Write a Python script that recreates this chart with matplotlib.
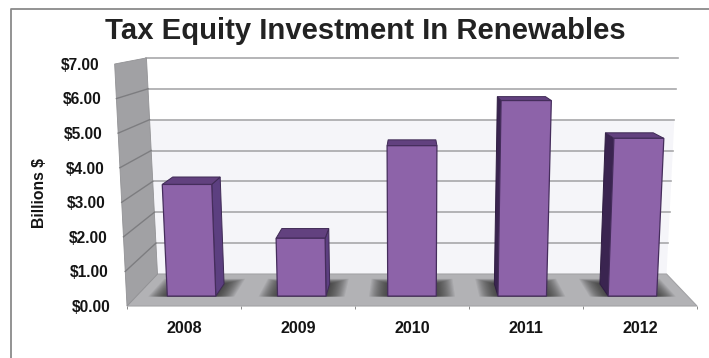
"""
    Tax equity investment, fake 3D column chart
"""

import matplotlib
matplotlib.use('Agg')
import matplotlib.pyplot as plt
from matplotlib.lines import Line2D
from matplotlib.patches import Polygon

years = ['2008', '2009', '2010', '2011', '2012']
values = [3.34, 1.73, 4.50, 5.85, 4.72]
y_ticks = [0, 1, 2, 3, 4, 5, 6, 7]
y_labels = ['$0.00', '$1.00', '$2.00', '$3.00', '$4.00', '$5.00', '$6.00', '$7.00']

plt.rcParams['font.family'] = ['Liberation Sans', 'DejaVu Sans']
plt.rcParams['font.weight'] = 'bold'

# 透视参数
SHRINK = 0.107
LIFT = 0.925
SPREAD = 0.0062
BAR_HALF = 0.22
D_FRONT, D_BACK = 0.31, 0.69
TOP = 7


def project(cat, val, depth):
    # 把 类别/数值/进深 转为前平面的数据坐标
    scale = 1 - SHRINK * depth
    x = 2 + (cat - 2) * scale * (1 + SPREAD * val)
    y = LIFT * depth + scale * val
    return x, y


def face(ax, corners, **kw):
    pts = [project(*c) for c in corners]
    ax.add_patch(Polygon(pts, closed=True, clip_on=False, **kw))


fig = plt.figure(figsize=(7.09, 3.58), dpi=100, facecolor='white')
ax = fig.add_axes([127 / 709, 52 / 358, 570 / 709, 242 / 358])
ax.set_xlim(-0.5, 4.5)
ax.set_ylim(0, 7)
ax.patch.set_alpha(0)
for s in ax.spines.values():
    s.set_visible(False)

L, R = -0.5, 4.5

# 后墙, 上面两格是白的
face(ax, [(L, 0, 1), (R, 0, 1), (R, 5, 1), (L, 5, 1)], fc='#f5f5f9', ec='none', zorder=1)
for v in y_ticks[1:]:
    p0 = project(L, v, 1)
    p1 = project(R, v, 1)
    ax.plot([p0[0], p1[0]], [p0[1], p1[1]], color='#a8a8aa', lw=1.2,
            clip_on=False, zorder=2)

# 地板
face(ax, [(L, 0, 0), (R, 0, 0), (R, 0, 1), (L, 0, 1)], fc='#b2b2b5', ec='#a2a2a5', lw=0.8, zorder=3)

# 左墙
face(ax, [(L, 0, 0), (L, 0, 1), (L, TOP, 1), (L, TOP, 0)], fc='#a1a1a4', ec='#929295', lw=0.6, zorder=4)
for v in y_ticks[1:7]:
    p0 = project(L, v, 0)
    p1 = project(L, v, 1)
    ax.plot([p0[0], p1[0]], [p0[1], p1[1]], color='#7d7d80', lw=1.0,
            clip_on=False, zorder=5)

# y 轴文字, 跟着墙的斜边走
for v, lab in zip(y_ticks, y_labels):
    x, y = project(L, v, 0)
    ax.text(x - 0.145 + 0.002 * v, y - 0.04, lab, ha='right', va='center',
            fontsize=11.2, fontweight='bold', color='#141414', clip_on=False)

# 柱子
for i, v in enumerate(values):
    x0, x1 = i - BAR_HALF, i + BAR_HALF

    # 底部阴影, 一层层叠出来的渐变
    for k in range(16):
        grow = 0.17 * (1 - k / 16)
        deep = 0.16 * (1 - k / 16)
        face(ax, [(x0 - grow, 0, D_FRONT - 0.015), (x1 + grow, 0, D_FRONT - 0.015),
                  (x1 + grow, 0, D_BACK + deep), (x0 - grow, 0, D_BACK + deep)],
             fc='#262626', ec='none', alpha=0.075, zorder=6)

    # 侧面, 左边的柱子露右面, 右边的露左面
    if i < 2:
        face(ax, [(x1, 0, D_FRONT), (x1, 0, D_BACK), (x1, v, D_BACK), (x1, v, D_FRONT)],
             fc='#5c3f80', ec='#3f2a55', lw=0.7, zorder=7)
    elif i > 2:
        face(ax, [(x0, 0, D_FRONT), (x0, 0, D_BACK), (x0, v, D_BACK), (x0, v, D_FRONT)],
             fc='#3a2450', ec='#2f1d42', lw=0.7, zorder=7)
    # 顶面
    face(ax, [(x0, v, D_FRONT), (x1, v, D_FRONT), (x1, v, D_BACK), (x0, v, D_BACK)],
         fc='#62417f', ec='#3f2a55', lw=0.7, zorder=8)
    # 正面
    face(ax, [(x0, 0, D_FRONT), (x1, 0, D_FRONT), (x1, v, D_FRONT), (x0, v, D_FRONT)],
         fc='#8d63a9', ec='#452d5c', lw=0.9, zorder=9)

# x 轴
ax.set_yticks([])
ax.set_xticks(range(len(years)))
ax.set_xticklabels(years, fontsize=11.6, fontweight='bold', color='#141414')
ax.set_xticks([i - 0.5 for i in range(len(years) + 1)], minor=True)
ax.tick_params(axis='x', which='major', length=0, pad=11)
ax.tick_params(axis='x', which='minor', length=2.5, width=0.7, color='#8a8a8a')

fig.text(39 / 709, 1 - 193 / 358, 'Billions $', rotation=90, ha='center', va='center',
         fontsize=11.3, fontweight='bold', color='#141414')
fig.text(365.5 / 709, 1 - 31 / 358, 'Tax Equity Investment In Renewables', ha='center', va='center',
         fontsize=21.1, fontweight='bold', color='#222222')

# 外框, 只有上边和左边
fig.add_artist(Line2D([10.5 / 709, 10.5 / 709, 1], [0, 1 - 9 / 358, 1 - 9 / 358],
                      color='#8a8a8a', lw=1.3))

fig.savefig('out.png', dpi=100)
